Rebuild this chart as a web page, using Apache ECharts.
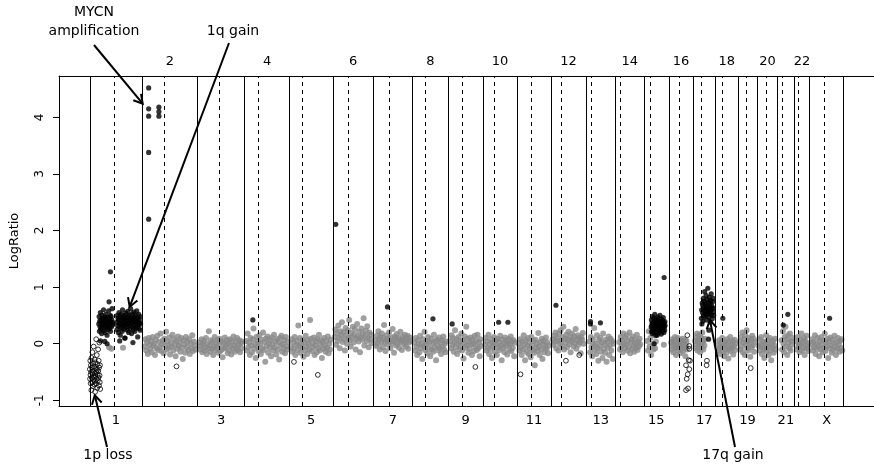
<!DOCTYPE html>
<html><head><meta charset="utf-8">
<script src="https://cdn.jsdelivr.net/npm/echarts@6/dist/echarts.min.js"></script>
<style>html,body{margin:0;padding:0;background:#fff}#c{width:874px;height:466px}</style>
</head><body><div id="c"></div>
<script>
// ---- chromosome layout (position units along the genome) ----
const chromNames = ['1','2','3','4','5','6','7','8','9','10','11','12','13','14','15','16','17','18','19','20','21','22','X'];
const chromLength = [262,280,235,227,216.5,205,195,180,175,171.5,170,175,150,142,125,121.5,113.5,111.5,98.5,101.5,83.5,78,170];
const centromere = [124,113.5,110,68.5,65,78.5,76.5,63.5,70,58.5,68.5,50,25,22,31.5,53,40,35,45,43,21.5,20,72];
const yTicks = [-1,0,1,2,3,4];

// ---- log ratios (clones in genomic order) ----
const normalChr2 = [-0.05,0.08,-0.12,0.02,-0.18,0.1,-0.02,-0.09,0.05,-0.15,0.12,-0.04,0.0,-0.2,0.07,-0.08,0.14,-0.11,0.03,-0.06,0.18,-0.13,-0.01,0.06,-0.17,0.09,-0.03,0.21,-0.1,0.04,-0.07,0.11,-0.19,0.01,-0.05,0.16,-0.12,0.08,-0.02,-0.22,0.05,-0.09,0.13,-0.04,0.02,-0.14,0.1,-0.07,-0.27,0.06,-0.01,-0.16,0.12,-0.06,0.03,-0.11,0.08,-0.18,0.0,-0.08,0.15,-0.13,0.04,-0.03,-0.1];
const normalChr3 = [0.02,-0.1,-0.04,0.08,-0.15,-0.01,0.05,-0.12,-0.06,0.1,-0.18,0.0,-0.08,0.22,-0.03,-0.14,0.06,-0.09,0.03,-0.2,-0.05,0.12,-0.11,0.01,-0.07,0.07,-0.16,-0.02,0.09,-0.13,0.04,-0.1,-0.24,0.02,-0.06,0.11,-0.08,-0.01,0.06,-0.17,0.0,-0.12,0.08,-0.04,-0.19,0.05,-0.09,0.13,-0.03,-0.14,0.03,-0.07,0.1,-0.11,-0.02,0.06,-0.15,0.01,-0.08,0.04];
const normalChr4 = [0.05,-0.12,0.18,-0.06,0.02,-0.2,0.1,-0.03,-0.15,0.08,0.27,-0.09,0.0,-0.25,0.12,-0.05,0.04,-0.13,0.15,-0.01,-0.18,0.07,-0.08,0.2,-0.11,0.03,-0.32,0.09,-0.04,0.13,-0.16,0.01,-0.07,0.06,-0.22,0.11,-0.02,-0.12,0.16,-0.06,0.04,-0.19,0.08,-0.1,0.02,-0.28,0.1,-0.03,0.14,-0.14,0.0,-0.08,0.06,-0.17,0.12,-0.05,-0.1,0.03];
const normalChr5 = [-0.06,0.08,-0.14,0.02,-0.09,0.12,-0.2,-0.02,0.05,-0.11,0.32,-0.04,0.1,-0.16,0.0,-0.07,0.07,-0.23,0.03,-0.12,0.14,-0.05,-0.18,0.06,-0.01,-0.1,0.42,0.09,-0.13,0.01,-0.06,0.11,-0.2,-0.03,0.04,-0.15,0.08,-0.08,0.16,-0.12,-0.01,0.06,-0.25,0.02,-0.09,0.1,-0.04,-0.14,0.05,-0.07,0.13,-0.17,0.0,-0.1,0.07];
const normalChr6 = [0.12,0.25,-0.02,0.18,0.05,0.32,0.1,-0.08,0.22,0.14,0.38,0.03,0.2,0.08,-0.12,0.28,0.15,0.0,0.24,0.1,0.42,0.06,-0.05,0.19,0.12,0.3,0.02,0.16,0.26,-0.1,0.09,0.35,0.13,0.04,0.21,-0.15,0.11,0.27,0.07,0.17,0.45,-0.03,0.14,0.23,0.05,0.31,0.1,-0.06,0.2,0.08,0.16,0.01];
const normalChr7 = [0.06,-0.04,0.14,0.0,0.22,0.08,-0.1,0.12,0.03,0.18,-0.06,0.1,0.33,0.02,-0.13,0.07,0.15,-0.02,0.09,0.2,0.04,-0.08,0.11,0.0,0.26,0.05,-0.16,0.13,0.08,-0.03,0.17,0.01,0.1,-0.07,0.06,0.21,0.03,-0.11,0.12,0.07,-0.01,0.16,0.04,-0.05,0.09,0.14,-0.09,0.02,0.11,0.05];
const normalChr8 = [0.02,-0.12,0.1,-0.05,-0.2,0.06,-0.01,-0.15,0.14,-0.08,0.0,-0.27,0.08,-0.04,0.21,-0.11,-0.02,0.05,-0.17,0.12,-0.07,0.03,-0.22,0.09,-0.1,0.01,-0.14,0.16,-0.06,0.04,-0.29,0.07,-0.03,-0.12,0.11,-0.08,0.02,-0.18,0.06,-0.05,0.13,-0.1,0.0,-0.15,0.04];
const normalChr9 = [0.05,-0.08,0.15,-0.02,0.1,-0.14,0.02,0.24,-0.06,0.08,-0.18,0.0,0.12,-0.1,0.04,-0.04,0.18,-0.12,0.06,-0.26,0.01,0.13,-0.07,0.3,-0.03,0.09,-0.16,0.03,-0.09,0.11,-0.01,-0.2,0.07,0.0,-0.13,0.14,-0.05,0.05,-0.11,0.16,-0.08,0.02,-0.22,0.08,-0.04];
const normalChr10 = [-0.02,0.1,-0.12,0.04,-0.07,0.16,-0.18,0.0,-0.09,0.08,-0.25,0.02,-0.05,0.12,-0.14,-0.01,0.06,-0.2,0.09,-0.06,0.03,-0.11,0.14,-0.03,-0.29,0.07,-0.08,0.01,-0.15,0.11,-0.04,0.05,-0.19,0.0,0.08,-0.1,-0.02,0.13,-0.13,0.04,-0.07,0.06,-0.22,0.02];
const normalChr11 = [0.0,-0.12,0.08,-0.06,-0.2,0.04,-0.1,0.15,-0.02,-0.29,0.06,-0.14,-0.04,0.1,-0.18,0.02,-0.08,-0.24,0.12,-0.03,-0.11,0.05,-0.16,-0.38,0.07,-0.07,0.0,-0.13,0.19,-0.05,-0.2,0.03,-0.1,0.09,-0.27,-0.01,0.05,-0.15,-0.06,0.11,-0.09,0.02,-0.17,-0.03];
const normalChr12 = [0.08,-0.02,0.14,0.03,0.2,-0.08,0.1,0.05,-0.12,0.17,0.0,0.24,0.06,-0.04,0.12,0.3,-0.1,0.09,0.02,0.16,-0.06,0.07,0.21,-0.01,0.11,-0.15,0.04,0.18,0.08,-0.05,0.13,0.01,0.26,-0.09,0.06,0.15,-0.02,0.1,0.03,-0.17,0.12,0.07,0.19,0.0];
const normalChr13 = [0.04,-0.15,0.12,-0.06,-0.22,0.08,-0.02,0.28,-0.11,0.0,-0.18,0.15,-0.08,-0.3,0.06,-0.04,0.1,-0.14,0.02,-0.25,0.18,-0.09,-0.01,-0.16,0.07,-0.32,0.03,-0.07,0.13,-0.2,-0.03,0.09,-0.12,0.05,-0.27,0.0];
const normalChr14 = [0.03,-0.1,0.12,-0.04,0.06,-0.15,0.18,0.0,-0.08,0.1,-0.02,0.15,-0.12,0.05,-0.06,0.2,-0.17,0.02,0.08,-0.09,0.13,-0.03,-0.14,0.07,0.01,-0.07,0.16,-0.11,0.04,-0.05,0.09,-0.01];
const normalChr15 = [0.05,-0.12,0.22,-0.05,0.1,-0.2,0.3,0.0,-0.1,0.15,-0.08,0.04];
const normalChr16 = [0.02,-0.1,0.08,-0.04,-0.15,0.05,-0.01,0.12,-0.08,-0.2,0.03,-0.06,0.1,-0.12,0.0,-0.05,0.07,-0.17,0.04,-0.09,-0.02,0.09,-0.13,0.01,-0.07,0.06,-0.22,-0.03,0.05,-0.1];
const normalChr17 = [0.05,-0.08,0.12,-0.02,0.18,-0.12,0.03,0.08,-0.05,0.15,-0.15,0.0,0.1,-0.07,0.2,0.02,-0.1,0.06,-0.03,0.09];
const normalChr18 = [-0.02,-0.12,0.06,-0.08,-0.18,0.02,-0.05,0.1,-0.14,-0.03,-0.22,0.04,-0.1,0.0,-0.16,0.08,-0.06,-0.26,0.03,-0.09,0.12,-0.13,-0.01,-0.07,0.05,-0.19,-0.04,0.07,-0.11,0.0];
const normalChr19 = [0.04,-0.1,0.12,-0.05,0.2,-0.15,0.02,0.08,-0.2,0.15,-0.02,0.24,-0.08,0.05,-0.12,0.1,0.0,-0.23,0.07,-0.06,0.14,-0.03,0.09,-0.14,0.03];
const normalChr20 = [-0.04,0.08,-0.12,-0.02,0.12,-0.18,-0.06,0.04,-0.1,-0.25,0.02,-0.08,0.15,-0.14,-0.01,0.06,-0.2,-0.05,0.1,-0.12,-0.29,0.0,-0.07,0.05,-0.16,-0.03,0.09,-0.1];
const normalChr21 = [0.06,-0.1,0.22,0.0,-0.15,0.12,0.3,-0.05,0.08,-0.2,0.15,0.02,-0.08,0.18,-0.12,0.05,-0.02,0.1];
const normalChr22 = [0.04,-0.1,0.12,-0.05,0.0,-0.15,0.08,-0.02,0.18,-0.12,0.03,-0.07,0.1,-0.2,0.05,-0.04,0.14,-0.09,0.01,-0.13];
const normalChrX = [-0.02,0.08,-0.12,0.03,-0.06,0.15,-0.18,0.0,-0.09,0.1,-0.04,-0.22,0.05,-0.1,0.12,-0.01,-0.15,0.06,-0.07,0.18,-0.13,0.02,-0.05,0.09,-0.25,0.04,-0.08,0.11,-0.03,-0.16,0.07,-0.11,0.01,0.14,-0.06,-0.2,0.03,-0.09,0.1,-0.02,-0.14,0.05,-0.07,0.08,-0.12];

const gainChr1p = [0.35,0.48,0.22,0.4,0.3,0.55,0.26,0.42,0.33,0.18,0.5,0.38,0.28,0.45,0.36,0.6,0.24,0.41,0.32,0.47,0.2,0.37,0.52,0.29,0.43,0.34,0.15,0.46,0.31,0.39,0.25,0.58,0.35,0.44,0.27,0.4,0.5,0.22,0.36,0.48,0.3,0.42,0.62,0.33,0.38];
const gainChr1q = [0.38,0.25,0.5,0.32,0.45,0.2,0.42,0.55,0.3,0.36,0.48,0.15,0.4,0.28,0.52,0.35,0.44,0.22,0.6,0.33,0.47,0.26,0.39,0.5,0.31,0.43,0.1,0.37,0.54,0.29,0.46,0.34,0.41,0.24,0.57,0.36,0.48,0.2,0.43,0.32,0.5,0.27,0.4,0.62,0.35,0.45,0.18,0.38,0.53,0.3,0.44,0.25,0.41,0.56,0.33,0.47,0.22,0.39,0.5,0.28,0.42,0.36,0.58,0.3,0.45,0.12,0.4,0.34,0.52,0.27,0.43,0.37,0.48,0.24,0.35];
const gainChr15 = [0.3,0.42,0.22,0.35,0.18,0.48,0.28,0.38,0.25,0.33,0.45,0.2,0.36,0.29,0.52,0.24,0.4,0.31,0.15,0.37,0.27,0.44,0.32,0.21,0.39,0.3,0.47,0.26,0.34,0.19,0.41,0.28,0.36,0.23,0.5,0.33,0.25,0.38,0.3,0.17,0.43,0.29,0.35,0.22,0.4,0.31,0.27,0.46,0.34,0.2,0.37,0.3,0.24,0.39,0.32];
const gainChr17q = [0.45,0.6,0.35,0.72,0.55,0.68,0.4,0.8,0.62,0.5,0.75,0.58,0.92,0.48,0.66,0.7,0.53,0.85,0.61,0.42,0.78,0.57,0.65,0.98,0.52,0.73,0.6,0.47,0.82,0.64,0.55,0.7,0.38,0.76,0.59,0.88,0.51,0.67,0.62,0.44,0.74,0.56,0.8,0.63,0.5];
const lossChr1p = [-0.45,-0.62,-0.3,-0.55,-0.7,-0.38,-0.5,-0.82,-0.25,-0.6,-0.42,-0.68,-0.15,-0.53,-0.75,-0.35,-0.48,-0.63,-0.05,-0.58,-0.4,-0.72,-0.28,-0.66,-0.52,-0.85,-0.33,-0.57,-0.44,-0.7,0.08,-0.5,-0.62,-0.2,-0.46,-0.78,-0.36,-0.55,-0.65,-0.1,-0.48,-0.6,-0.3,-0.74,-0.42,0.02,-0.56,-0.68,-0.38,-0.8];

// segments: [chromosome, first clone position, last clone position, values]
const normalSegments = [
  ['2',13.5,268.5,normalChr2],['3',8.5,223.5,normalChr3],['4',8.5,218.5,normalChr4],['5',6.5,206.5,normalChr5],
  ['6',10,195,normalChr6],['7',10,185,normalChr7],['8',10,170,normalChr8],['9',10,165,normalChr9],
  ['10',10,160,normalChr10],['11',8.5,158.5,normalChr11],['12',8.5,163.5,normalChr12],['13',18.5,138.5,normalChr13],
  ['14',18.5,123.5,normalChr14],['15',16.5,60,normalChr15],['16',11.5,91.5,normalChr16],['17',10,60,normalChr17],
  ['18',11.5,101.5,normalChr18],['19',10,85,normalChr19],['20',6.5,91.5,normalChr20],['21',20,75,normalChr21],
  ['22',11.5,71.5,normalChr22],['X',8.5,163.5,normalChrX]
];
const gainSegments = [['1',45,115,gainChr1p],['1',135,255,gainChr1q],['15',36.5,106.5,gainChr15],['17',42,104,gainChr17q]];
const lossSegments = [['1',0,52,lossChr1p]];

// single clones: [chromosome, position, log ratio]
const normalSingles = [['1',96.5,-0.06],['1',108.5,-0.09],['1',166.5,-0.07],['15',100,-0.02]];
const gainSingles = [['1',103.5,1.27],['1',96.5,0.74],['1',53.5,0.05],['1',75,0.04],['1',86.5,0.0],['1',150,0.05],['1',175,0.1],['1',216.5,0.02],
  ['2',33.5,4.52],['2',33.5,4.15],['2',33.5,4.02],['2',33.5,3.38],['2',33.5,2.2],['2',85,4.18],['2',85,4.1],['2',85,4.02],
  ['4',42,0.42],['6',15,2.11],['7',70,0.65],['8',103.5,0.44],['9',20,0.35],['10',78.5,0.38],['10',125,0.38],['12',25,0.68],
  ['13',23.5,0.39],['13',23.5,0.35],['13',73.5,0.37],['15',101.5,1.17],['15',51.5,0.0],['15',66.5,0.15],['17',80,0.24],['17',78.5,0.08],
  ['18',36.5,0.45],['21',28.5,0.33],['21',51.5,0.52],['X',100,0.45]];
const lossSingles = [['2',173.5,-0.4],['5',21.5,-0.32],['5',141.5,-0.55],['9',136.5,-0.41],['11',17,-0.54],['12',75,-0.3],['12',142,-0.2],
  ['16',93,0.15],['16',103,-0.04],['16',103,-0.09],['16',100,-0.29],['16',106.5,-0.3],['16',86.5,-0.38],['16',103,-0.45],['16',95,-0.54],
  ['16',90,-0.62],['16',86.5,-0.82],['16',96.5,-0.79],['17',70,-0.3],['17',68.5,-0.38],['19',65,-0.43]];

// annotations: label and target [chromosome, position, log ratio]
const annotLabels = ['MYCN\namplification','1q gain','1p loss','17q gain'];
const annotTargets = [['2',3.5,4.24],['1',200,0.65],['1',25,-0.91],['17',85,0.42]];

// ---- build ----
const chromStart = []; let acc = 0;
chromLength.forEach(l => { chromStart.push(acc); acc += l; });
const gx = (chr, pos) => chromStart[chromNames.indexOf(chr)] + pos;
function expand(segs) {
  const out = [];
  segs.forEach(([chr,a,b,vals]) => { const n = vals.length;
    vals.forEach((v,i) => out.push([gx(chr, a + (b-a)*i/(n-1)), v])); });
  return out;
}
const singles = list => list.map(([c,p,v]) => [gx(c,p), v]);
const boundaries = chromStart.concat([acc]);
const cenLines = centromere.map((c,i) => chromStart[i] + c);
const mids = chromStart.map((s,i) => s + chromLength[i]/2);
const oddMids = mids.filter((m,i) => i % 2 === 0);
const evenMids = mids.filter((m,i) => i % 2 === 1);
const nameAt = v => { let best = 0; mids.forEach((m,i) => { if (Math.abs(m-v) < Math.abs(mids[best]-v)) best = i; }); return chromNames[best]; };

const FONT = 'DejaVu Sans';
const chart = echarts.init(document.getElementById('c'), null, {renderer:'canvas'});
const xCommon = {
  type:'value', min:-155, max:3940, gridIndex:0,
  axisLine:{show:true, onZero:false, lineStyle:{color:'#000', width:1}},
  axisTick:{show:false}, splitLine:{show:false}
};
chart.setOption({
  animation:false,
  grid:{left:59, top:76, width:819, height:330},
  xAxis:[
    Object.assign({}, xCommon, {position:'bottom',
      axisLabel:{customValues:oddMids, formatter:nameAt, color:'#000', fontSize:13, fontFamily:FONT, margin:8}}),
    Object.assign({}, xCommon, {position:'top',
      axisLabel:{customValues:evenMids, formatter:nameAt, color:'#000', fontSize:13, fontFamily:FONT, margin:8}})
  ],
  yAxis:{
    type:'value', min:-1.1, max:4.73,
    axisLine:{show:true, onZero:false, lineStyle:{color:'#000', width:1}},
    axisTick:{show:true, length:6, customValues:yTicks, lineStyle:{color:'#000'}},
    axisLabel:{customValues:yTicks, rotate:90, margin:13, color:'#000', fontSize:12, fontFamily:FONT},
    splitLine:{show:false},
    name:'LogRatio', nameLocation:'middle', nameGap:38,
    nameTextStyle:{color:'#000', fontSize:13, fontFamily:FONT}
  },
  series:[
    {type:'scatter', data:expand(normalSegments).concat(singles(normalSingles)), symbolSize:6,
      itemStyle:{color:'#888'}, emphasis:{disabled:true}, z:2},
    {type:'scatter', data:expand(gainSegments).concat(singles(gainSingles)), symbolSize:5.2,
      itemStyle:{color:'#000'}, emphasis:{disabled:true}, z:3},
    {type:'scatter', data:expand(lossSegments).concat(singles(lossSingles)), symbolSize:4.8,
      itemStyle:{color:'rgba(0,0,0,0)', borderColor:'#000', borderWidth:1}, emphasis:{disabled:true}, z:4},
    {type:'line', data:[], z:5, markLine:{silent:true, symbol:['none','none'], label:{show:false},
      lineStyle:{color:'#000', width:1, type:'solid'}, data:boundaries.map(v => ({xAxis:v}))}},
    {type:'line', data:[], z:5, markLine:{silent:true, symbol:['none','none'], label:{show:false},
      lineStyle:{color:'#000', width:1, type:[4,4]}, data:cenLines.map(v => ({xAxis:v}))}}
  ]
});

// annotation arrows (text placed in the margins, arrow tips at data coordinates)
const textPos = [[94,21.5],[233,31],[108,455],[733,455]];
const tailPos = [[94,45],[229,43],[107,447],[735,447]];
const graphics = [];
annotTargets.forEach(([c,p,v], i) => {
  const tip = chart.convertToPixel({xAxisIndex:0, yAxisIndex:0}, [gx(c,p), v]);
  const [sx, sy] = tailPos[i];
  const ang = Math.atan2(tip[1]-sy, tip[0]-sx);
  const L = 10, a = Math.PI/6;
  const p1 = [tip[0] - L*Math.cos(ang - a), tip[1] - L*Math.sin(ang - a)];
  const p2 = [tip[0] - L*Math.cos(ang + a), tip[1] - L*Math.sin(ang + a)];
  graphics.push({type:'line', z:100, shape:{x1:sx, y1:sy, x2:tip[0], y2:tip[1]}, style:{stroke:'#000', lineWidth:2}});
  graphics.push({type:'polyline', z:100, shape:{points:[p1, tip, p2]}, style:{stroke:'#000', lineWidth:2, fill:null}});
  graphics.push({type:'text', z:100, x:textPos[i][0], y:textPos[i][1],
    style:{text:annotLabels[i], fill:'#000', fontSize:14, fontFamily:FONT, align:'center', verticalAlign:'middle', lineHeight:19}});
});
chart.setOption({graphic:graphics});
</script></body></html>
